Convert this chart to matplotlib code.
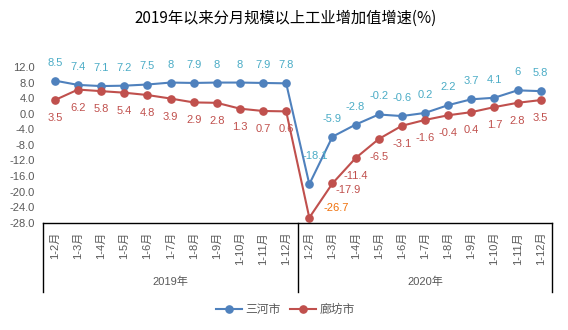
import matplotlib
matplotlib.use('Agg')
import matplotlib.pyplot as plt
from matplotlib.lines import Line2D

plt.rcParams['font.family'] = ['Liberation Sans', 'Noto Sans CJK SC', 'DejaVu Sans']

months = ['1-2月', '1-3月', '1-4月', '1-5月', '1-6月', '1-7月',
          '1-8月', '1-9月', '1-10月', '1-11月', '1-12月']
years = ['2019年', '2020年']
sanhe = [8.5, 7.4, 7.1, 7.2, 7.5, 8, 7.9, 8, 8, 7.9, 7.8,
         -18.1, -5.9, -2.8, -0.2, -0.6, 0.2, 2.2, 3.7, 4.1, 6, 5.8]
langfang = [3.5, 6.2, 5.8, 5.4, 4.8, 3.9, 2.9, 2.8, 1.3, 0.7, 0.6,
            -26.7, -17.9, -11.4, -6.5, -3.1, -1.6, -0.4, 0.4, 1.7, 2.8, 3.5]
yticks = [12, 8, 4, 0, -4, -8, -12, -16, -20, -24, -28]

blue = '#4F81BD'
red = '#C0504D'
gray = '#595959'

fig = plt.figure(figsize=(5.68, 3.30), dpi=100)
ax = fig.add_axes([0.0762, 0.325, 0.896, 0.472])

x = list(range(len(sanhe)))
ax.plot(x, sanhe, color=blue, lw=1.5, marker='o', ms=5.2, label='三河市')
ax.plot(x, langfang, color=red, lw=1.5, marker='o', ms=5.2, label='廊坊市')

ax.set_xlim(-0.5, len(x) - 0.5)
ax.set_ylim(-28, 12)
ax.set_yticks(yticks)
ax.set_yticklabels([f'{v:.1f}' for v in yticks], color=gray, fontsize=8)
ax.tick_params(axis='y', length=0, pad=6)

ax.set_xticks(x)
ax.set_xticklabels(months * 2, rotation=90, va='top', ha='center', color=gray, fontsize=8)
ax.tick_params(axis='x', length=0, pad=6.5)

for s in ['left', 'right', 'top']:
    ax.spines[s].set_visible(False)
ax.spines['bottom'].set_color('black')
ax.spines['bottom'].set_linewidth(1)

# group axis box
trans = ax.get_xaxis_transform()
for xv in [-0.5, 10.5, 21.5]:
    ax.plot([xv, xv], [0, -0.443], transform=trans, color='black', lw=1, clip_on=False)
for i, yr in enumerate(years):
    ax.text(5 + 11 * i, -0.379, yr, transform=trans, ha='center', va='center',
            color=gray, fontsize=8)

# data labels
for i, v in enumerate(sanhe):
    off = (0, 13)
    if i == 11:
        off = (4, 20)
    ax.annotate(f'{v:g}', (i, v), xytext=off, textcoords='offset points',
                ha='center', va='center', color='#4BACC6', fontsize=8)
for i, v in enumerate(langfang):
    off, ha, col = (0, -13), 'center', red
    if i == 11:
        off, ha, col = (10, 7), 'left', '#F0700A'
    elif i == 12:
        off = (11, -5)
    ax.annotate(f'{v:g}', (i, v), xytext=off, textcoords='offset points',
                ha=ha, va='center', color=col, fontsize=8)

fig.text(0.503, 0.945, '2019年以来分月规模以上工业增加值增速(%)', ha='center', va='center',
         fontsize=11, color='black', family=['Noto Sans CJK SC', 'DejaVu Sans'])

handles = [Line2D([], [], color=blue, lw=1.5, marker='o', ms=5.2),
           Line2D([], [], color=red, lw=1.5, marker='o', ms=5.2)]
fig.legend(handles, ['三河市', '廊坊市'], loc='center', bbox_to_anchor=(0.503, 0.06),
           ncol=2, frameon=False, fontsize=8.5, handlelength=2.2, handletextpad=0.3,
           columnspacing=0.8, labelcolor=gray)

fig.savefig('out.png', dpi=100)
